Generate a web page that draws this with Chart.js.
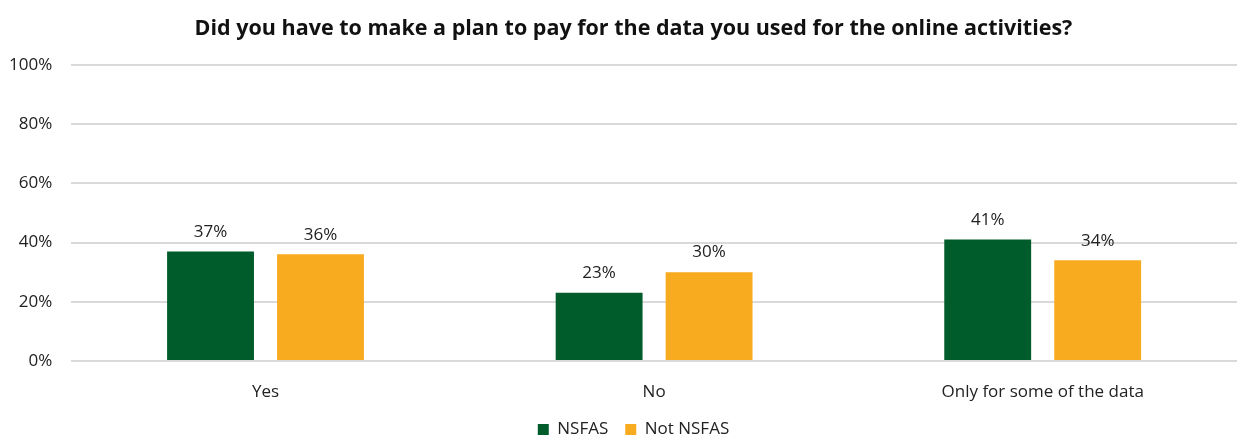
<!DOCTYPE html>
<html>
<head>
<meta charset="utf-8">
<script src="https://cdn.jsdelivr.net/npm/chart.js@4/dist/chart.umd.min.js"></script>
<style>
  html, body { margin: 0; padding: 0; background: #fff; }
  #wrap { width: 1237px; height: 437px; position: relative; }
</style>
</head>
<body>
<div id="wrap"><canvas id="chart"></canvas></div>
<script>
// ─── Data ─────────────────────────────────────────────────────────────────────
const categories = ['Yes', 'No', 'Only for some of the data'];
const nsfas = [37, 23, 41];
const notNsfas = [36, 30, 34];
const yTicks = [0, 20, 40, 60, 80, 100];

const FONT = '"Open Sans", "Noto Sans", sans-serif';

// draws the value above each bar
const valueLabels = {
    id: 'valueLabels',
    afterDatasetsDraw(chart) {
        const ctx = chart.ctx;
        ctx.save();
        ctx.font = '17px ' + FONT;
        ctx.fillStyle = '#222';
        ctx.textAlign = 'center';
        ctx.textBaseline = 'bottom';
        chart.data.datasets.forEach((ds, i) => {
            chart.getDatasetMeta(i).data.forEach((bar, j) => {
                ctx.fillText(ds.data[j] + '%', bar.x, bar.y - 11);
            });
        });
        ctx.restore();
    },
};

// title and legend sit a bit right of the canvas centre in the original
const nudgeCentre = {
    id: 'nudgeCentre',
    afterLayout(chart) {
        if (chart.titleBlock) chart.titleBlock.left += 40;
        if (chart.legend) chart.legend.left += 40;
    },
};

new Chart(document.getElementById('chart'), {
    type: 'bar',
    data: {
        labels: categories,
        datasets: [
            { label: 'NSFAS', data: nsfas, backgroundColor: '#005c2b' },
            { label: 'Not NSFAS', data: notNsfas, backgroundColor: '#f9ab1f' },
        ],
    },
    options: {
        responsive: true,
        maintainAspectRatio: false,
        animation: false,
        categoryPercentage: 0.566,
        barPercentage: 0.79,
        layout: { padding: { left: -10, right: 0, top: 0, bottom: -11 } },
        plugins: {
            title: {
                display: true,
                text: 'Did you have to make a plan to pay for the data you used for the online activities?',
                color: '#111',
                font: { family: FONT, size: 21.5, weight: 'bold' },
                padding: { top: 16, bottom: 23 },
            },
            legend: {
                position: 'bottom',
                labels: {
                    color: '#222',
                    font: { family: FONT, size: 17 },
                    boxWidth: 11,
                    boxHeight: 11,
                    padding: 17,
                },
            },
            tooltip: { enabled: false },
        },
        scales: {
            x: {
                grid: { display: false, drawTicks: false },
                border: { display: false },
                ticks: { color: '#222', font: { family: FONT, size: 17 }, padding: 21 },
                afterFit: scale => { scale.height = 43; },
            },
            y: {
                min: 0,
                max: 100,
                afterBuildTicks: axis => { axis.ticks = yTicks.map(v => ({ value: v })); },
                grid: { color: '#d9d9d9', lineWidth: 2, drawTicks: false },
                border: { display: false },
                ticks: {
                    color: '#222',
                    font: { family: FONT, size: 17 },
                    padding: 19,
                    callback: v => v + '%',
                },
            },
        },
    },
    plugins: [valueLabels, nudgeCentre],
});
</script>
</body>
</html>
